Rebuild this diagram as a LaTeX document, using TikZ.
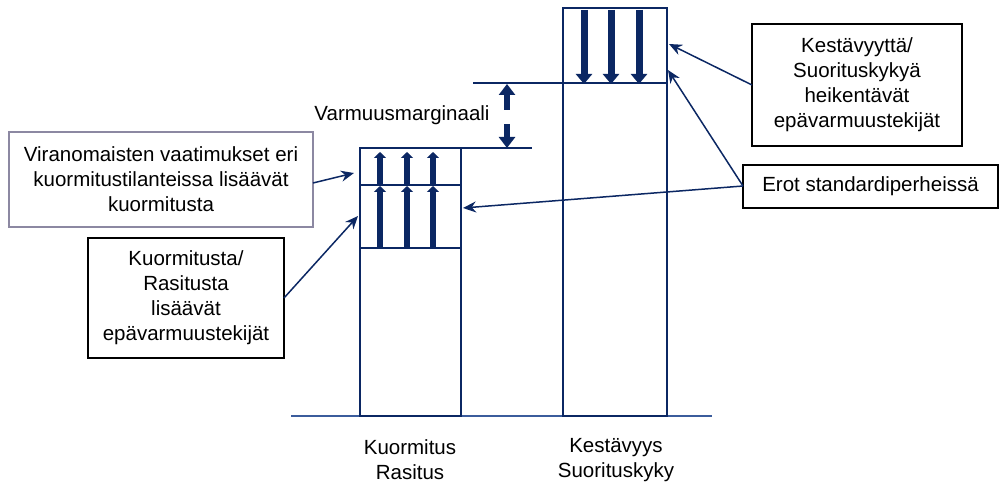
\documentclass[tikz,border=0pt]{standalone}
\usepackage{fontspec}
\setmainfont{Liberation Sans}
\usetikzlibrary{arrows.meta}
\definecolor{navy}{HTML}{0B2763}
\definecolor{groundblue}{HTML}{3B5C9C}
\definecolor{softframe}{HTML}{8C88A2}
\begin{document}
\begin{tikzpicture}[x=1pt,y=-1pt,
  every node/.style={font=\fontsize{20.5}{25}\selectfont, inner sep=0pt},
  infobox/.style={draw=black, line width=1.4pt, fill=white, align=center},
  softbox/.style={infobox, draw=softframe},
  column/.style={draw=navy, line width=2.8pt, fill=white, minimum width=101pt, inner sep=0pt, outer sep=0pt},
  pointer/.style={draw=navy, line width=1.5pt, -{Stealth[length=13pt,width=11pt]}},
  loadarrow/.style={draw=navy, line width=6pt, -{Triangle[length=6pt,width=12pt]}},
  capacityarrow/.style={draw=navy, line width=7pt, -{Triangle[length=10pt,width=16pt]}},
  marginarrow/.style={draw=navy, line width=6.5pt, -{Triangle[length=11pt,width=16pt]}},
  level/.style={draw=navy, line width=2.2pt},
  caption/.style={align=center}]
\useasboundingbox (0,0) rectangle (1000,486);

% ground line
\draw[groundblue, line width=2pt] (291,416) -- (712,416);

% load column and capacity column
\node[column, minimum height=268pt, anchor=south west] (load) at (360,416) {};
\node[column, minimum width=104pt, minimum height=408pt, anchor=south west] (cap) at (563,416) {};

% inner division lines
\coordinate (l1w) at (360,185); \coordinate (l1e) at (460,185);
\coordinate (l2w) at (360,248); \coordinate (l2e) at (460,248);
\coordinate (c1w) at (563,83);  \coordinate (c1e) at (667,83);
\draw[level] (l1w) -- (l1e);
\draw[level] (l2w) -- (l2e);
\draw[level] (c1w) -- (c1e);

% margin reference lines
\coordinate (mtop) at (473,83);
\coordinate (mbot) at (532,148);
\draw[level] (mtop) -- (c1w);
\draw[level] (load.north east) -- (mbot);

% load arrows (upward, two stages)
\foreach \x in {380,407,433} {
  \coordinate (la\x) at (\x,248);
  \coordinate (lb\x) at (\x,186);
  \coordinate (lc\x) at (\x,152);
  \draw[loadarrow] (la\x) -- (lb\x);
  \draw[loadarrow] (lb\x) -- (lc\x);
}

% capacity arrows (downward)
\foreach \x in {584,611,639} {
  \coordinate (ca\x) at (\x,10);
  \coordinate (cb\x) at (\x,84);
  \draw[capacityarrow] (ca\x) -- (cb\x);
}

% safety margin double arrow
\coordinate (mu1) at (507,110);
\coordinate (mu2) at (507,84);
\coordinate (md1) at (507,124);
\coordinate (md2) at (507,148);
\draw[marginarrow] (mu1) -- (mu2);
\draw[marginarrow] (md1) -- (md2);
\node (margin) at (402,115) {Varmuusmarginaali};

% explanation boxes
\node[softbox, minimum width=304pt, minimum height=95pt] (authority) at (161,179.5)
  {Viranomaisten vaatimukset eri\\kuormitustilanteissa lisäävät\\kuormitusta};
\node[infobox, minimum width=196pt, minimum height=120pt] (loadunc) at (186,298)
  {Kuormitusta/\\Rasitusta\\lisäävät\\epävarmuustekijät};
\node[infobox, minimum width=210pt, minimum height=122pt] (capunc) at (857,85)
  {Kestävyyttä/\\Suorituskykyä\\heikentävät\\epävarmuustekijät};
\node[infobox, minimum width=255pt, minimum height=43pt] (std) at (870.5,186.5)
  {Erot standardiperheissä};

% pointers
\coordinate (pa) at (354,173);
\coordinate (pb) at (358,216);
\coordinate (pc) at (669,44);
\coordinate (pd) at (668,70);
\coordinate (pe) at (463,208);
\coordinate (sa) at (313,183);
\coordinate (sb) at (284,298);
\coordinate (sc) at (752,85);
\coordinate (sd) at (743,186);
\draw[pointer] (sa) -- (pa);
\draw[pointer] (sb) -- (pb);
\draw[pointer] (sc) -- (pc);
\draw[pointer] (sd) -- (pd);
\draw[pointer] (sd) -- (pe);

% column captions
\node[caption] (loadcap) at (410,460) {Kuormitus\\Rasitus};
\node[caption] (capcap) at (616,460) {Kestävyys\\Suorituskyky};
\end{tikzpicture}
\end{document}
